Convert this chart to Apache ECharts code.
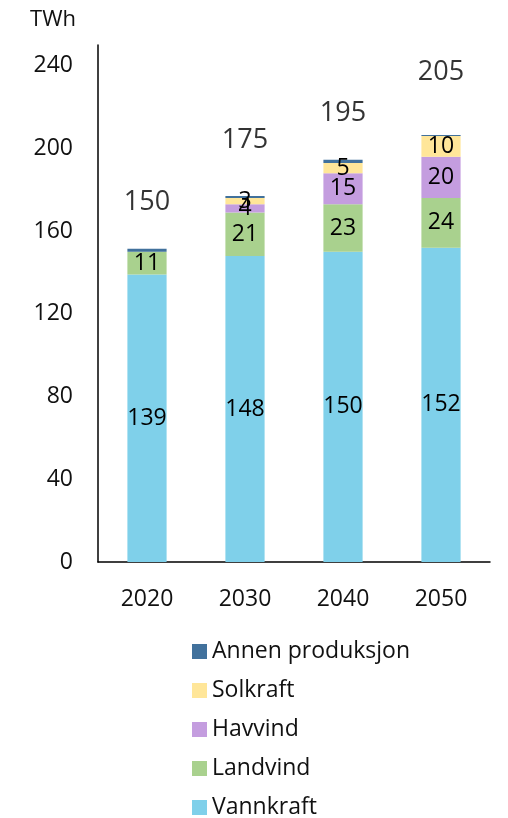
<!DOCTYPE html>
<html>
<head>
<meta charset="utf-8">
<script src="https://cdn.jsdelivr.net/npm/echarts@6/dist/echarts.min.js"></script>
<style>
  html, body { margin: 0; padding: 0; background: #fff; }
  #chart { width: 508px; height: 818px; }
</style>
</head>
<body>
<div id="chart"></div>
<script>
const years = ['2020', '2030', '2040', '2050'];
const vannkraft = [139, 148, 150, 152];
const landvind = [11, 21, 23, 24];
const havvind = [0, 4, 15, 20];
const solkraft = [0, 3, 5, 10];
const annen = [1.5, 1, 1.5, 0.5];
const totals = [150, 175, 195, 205];
// hvor totaltallene står (i TWh på aksen)
const totalLabelAt = [174, 204, 217, 237];
const yTicks = [0, 40, 80, 120, 160, 200, 240];

const font = '"Open Sans", "Noto Sans", sans-serif';

function seg(name, data, color) {
  return {
    name: name,
    type: 'bar',
    stack: 'sum',
    barWidth: '40%',
    data: data,
    itemStyle: { color: color },
    label: {
      show: true,
      position: 'inside',
      color: '#000',
      fontSize: 23,
      fontFamily: font,
      formatter: p => (p.value >= 2 ? p.value : '')
    }
  };
}

const myChart = echarts.init(document.getElementById('chart'));
const option = {
  animation: false,
  textStyle: { fontFamily: font },
  grid: { left: 98, right: 18, top: 45, bottom: 256 },
  legend: {
    orient: 'vertical',
    left: 187,
    top: 635,
    height: 185,
    itemWidth: 15,
    itemHeight: 15,
    itemGap: 16,
    icon: 'rect',
    textStyle: { fontSize: 23, color: '#111', fontFamily: font },
    data: ['Annen produksjon', 'Solkraft', 'Havvind', 'Landvind', 'Vannkraft']
  },
  xAxis: {
    type: 'category',
    data: years,
    axisLine: { show: true, lineStyle: { color: '#000', width: 1.5 } },
    axisTick: { show: false },
    axisLabel: { color: '#111', fontSize: 23, margin: 26, fontFamily: font }
  },
  yAxis: {
    type: 'value',
    min: 0,
    max: 250,
    interval: 40,
    name: 'TWh',
    nameLocation: 'end',
    nameGap: 14,
    nameTextStyle: { color: '#111', fontSize: 22, align: 'right', padding: [0, 22, 0, 0], fontFamily: font },
    axisLine: { show: true, lineStyle: { color: '#000', width: 1.5 } },
    axisTick: { show: false },
    splitLine: { show: false },
    axisLabel: {
      color: '#111',
      fontSize: 23,
      margin: 25,
      fontFamily: font,
      showMaxLabel: false,
      formatter: v => (yTicks.indexOf(v) >= 0 ? v : '')
    }
  },
  series: [
    seg('Vannkraft', vannkraft, '#7fd0ea'),
    seg('Landvind', landvind, '#a9d18e'),
    seg('Havvind', havvind, '#c49ddf'),
    seg('Solkraft', solkraft, '#ffe699'),
    {
      name: 'Annen produksjon',
      type: 'bar',
      stack: 'sum',
      barWidth: '40%',
      data: annen,
      itemStyle: { color: '#41719c' }
    },
    {
      name: 'total',
      type: 'scatter',
      symbolSize: 0,
      silent: true,
      data: totalLabelAt.map((v, i) => [years[i], v]),
      label: {
        show: true,
        position: 'inside',
        color: '#000',
        fontSize: 27,
        fontFamily: font,
        formatter: p => totals[p.dataIndex]
      }
    }
  ]
};
myChart.setOption(option);
</script>
</body>
</html>
